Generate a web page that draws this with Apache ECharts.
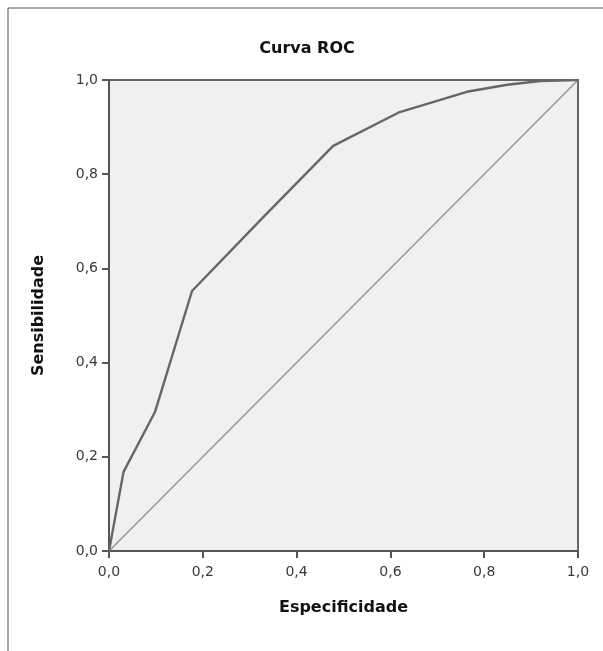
<!DOCTYPE html>
<html><head><meta charset="utf-8">
<script src="https://cdn.jsdelivr.net/npm/echarts@6/dist/echarts.min.js"></script>
<style>html,body{margin:0;padding:0;background:#fff}#c{width:603px;height:651px}</style>
</head><body><div id="c"></div>
<script>
const titleText = "Curva ROC";
const xAxisName = "Especificidade";
const yAxisName = "Sensibilidade";
const rocX = [0, 0.031, 0.098, 0.177, 0.33, 0.478, 0.62, 0.763, 0.849, 0.92, 1.0];
const rocY = [0, 0.168, 0.295, 0.552, 0.71, 0.86, 0.932, 0.975, 0.99, 0.998, 1.0];
const refX = [0, 1];
const refY = [0, 1];

const chart = echarts.init(document.getElementById('c'), null, {renderer: 'canvas'});
const fmt = v => v.toFixed(1).replace('.', ',');
const labelStyle = {color: '#3a3a3a', fontSize: 14, fontFamily: 'DejaVu Sans', formatter: fmt};
const nameStyle = {fontSize: 16, fontWeight: 'bold', color: '#111', fontFamily: 'DejaVu Sans'};
chart.setOption({
  animation: false,
  backgroundColor: '#fff',
  title: {text: titleText, left: 302, top: 36, textAlign: 'center',
    textStyle: {fontSize: 16, fontWeight: 'bold', color: '#111', fontFamily: 'DejaVu Sans'}},
  graphic: [{type: 'rect', shape: {x: 8, y: 8, width: 700, height: 700},
    style: {fill: 'none', stroke: '#555', lineWidth: 1}, silent: true}],
  grid: {left: 109, top: 80, width: 469, height: 471, show: true,
    backgroundColor: '#f0f0f0', borderColor: '#666', borderWidth: 2},
  xAxis: {type: 'value', min: 0, max: 1, interval: 0.2,
    name: xAxisName, nameLocation: 'middle', nameGap: 49,
    nameTextStyle: nameStyle,
    axisLine: {show: true, lineStyle: {color: '#555', width: 2}},
    axisTick: {show: true, length: 7, lineStyle: {color: '#555', width: 2}},
    axisLabel: Object.assign({margin: 14}, labelStyle),
    splitLine: {show: false}},
  yAxis: {type: 'value', min: 0, max: 1, interval: 0.2,
    name: yAxisName, nameLocation: 'middle', nameGap: 62,
    nameTextStyle: nameStyle,
    axisLine: {show: true, lineStyle: {color: '#555', width: 2}},
    axisTick: {show: true, length: 7, lineStyle: {color: '#555', width: 2}},
    axisLabel: Object.assign({margin: 11}, labelStyle),
    splitLine: {show: false}},
  series: [
    {type: 'line', data: refX.map((x, i) => [x, refY[i]]), symbol: 'none',
      lineStyle: {color: '#999', width: 1.6}},
    {type: 'line', data: rocX.map((x, i) => [x, rocY[i]]), symbol: 'none',
      lineStyle: {color: '#666', width: 2.4}}
  ]
});
</script></body></html>
